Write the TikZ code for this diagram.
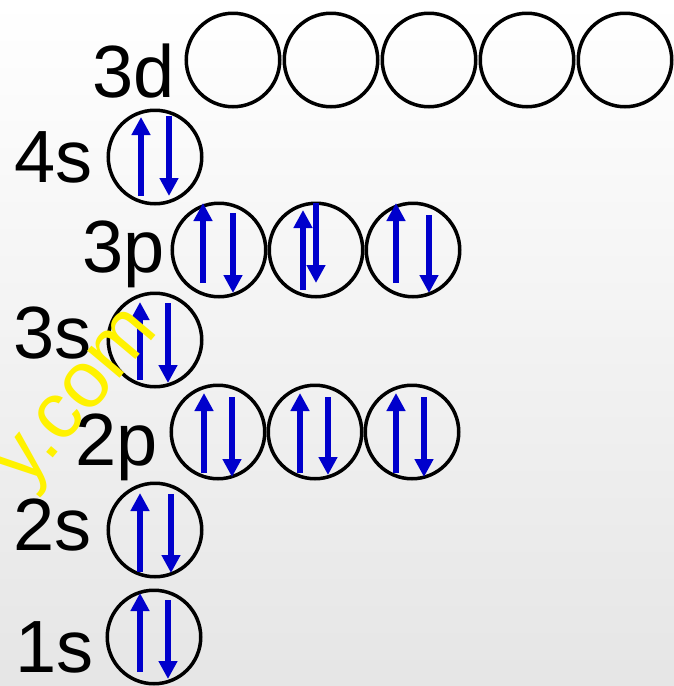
\documentclass[tikz,border=0pt]{standalone}
\usepackage{fontspec}
\setmainfont{Liberation Sans}
\usetikzlibrary{arrows.meta}
\definecolor{spinblue}{RGB}{0,0,204}

\begin{document}
\begin{tikzpicture}[x=1pt, y=-1pt,
    orb/.style={draw, circle, line width=3.5pt, minimum size=93.5pt, inner sep=0pt},
    lbl/.style={anchor=base east, inner sep=0pt, font=\fontsize{74}{80}\selectfont},
    spin/.style={draw=spinblue, line width=6pt, -{Triangle[length=18pt, width=18pt]}}
]
\useasboundingbox (0,0) rectangle (674,686);
\shade[top color=white, bottom color=gray!20] (0,0) rectangle (674,686);

% 3d orbitals (empty)
\foreach \i in {1,...,5}{
    \node[orb] (d\i) at (233+98*\i-98, 60) {};
}

% s orbitals
\node[orb] (s4) at (155,157) {};
\node[orb] (s3) at (155,340) {};
\node[orb] (s2) at (155,530) {};
\node[orb] (s1) at (154,637) {};

% p orbitals
\foreach \i in {1,2,3}{
    \node[orb] (p3\i) at (219+97*\i-97, 250) {};
    \node[orb] (p2\i) at (218+97*\i-97, 432) {};
}

% labels
\node[lbl] (l3d) at (175,97) {3d};
\node[lbl] (l4s) at (93,182) {4s};
\node[lbl] (l3p) at (165,272) {3p};
\node[lbl] (l3s) at (92,358) {3s};
\node[lbl] (l2p) at (158,465) {2p};
\node[lbl] (l2s) at (92,550) {2s};
\node[lbl] (l1s) at (94,672) {1s};

% electron pairs: orbital / up x, from, to / down x, from, to
\foreach \o/\ux/\ua/\ub/\dx/\da/\db in {
    s4/-14/39/-40/14/-41/39,
    s3/-15/40/-38/13/-37/43,
    s2/-15/42/-37/16/-36/43,
    s1/-14/35/-44/14/-37/42,
    p31/-16/33/-47/14/-37/43,
    p32/-13/40/-40/0/-47/33,
    p33/-17/33/-47/16/-35/43,
    p21/-14/41/-39/14/-35/45,
    p22/-15/41/-39/13/-35/43,
    p23/-16/41/-39/12/-35/45}{
    \draw[spin] ([shift={(\ux,\ua)}]\o.center) -- ([shift={(\ux,\ub)}]\o.center);
    \draw[spin] ([shift={(\dx,\da)}]\o.center) -- ([shift={(\dx,\db)}]\o.center);
}

% watermark
\node[rotate=50, text=yellow, inner sep=0pt, font=\fontsize{80}{84}\selectfont] (wm) at (83,402) {y.com};

\end{tikzpicture}
\end{document}
